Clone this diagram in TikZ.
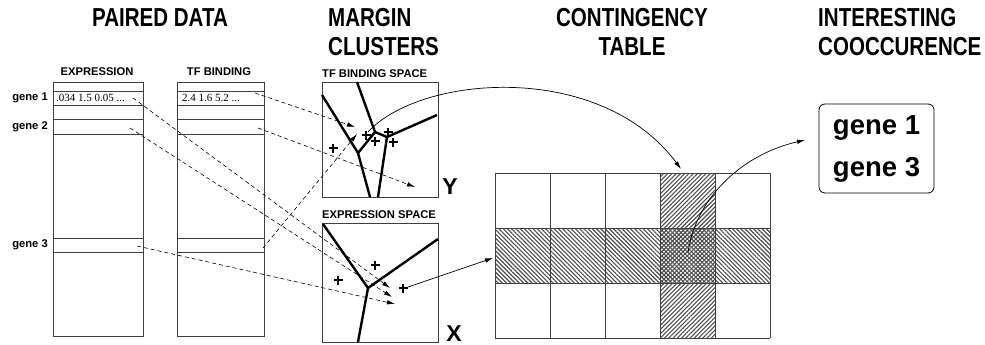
\documentclass[tikz,border=0pt]{standalone}
\usepackage{fontspec}
\setmainfont{Liberation Sans}
\newfontfamily\titlefont{Liberation Sans}[FakeStretch=0.79]
\newfontfamily\datafont{Liberation Serif}
\usetikzlibrary{arrows.meta, patterns.meta}

\begin{document}
\begin{tikzpicture}[x=1pt, y=-1pt, >={Latex[length=8pt,width=4.5pt]},
  title/.style={font=\titlefont\bfseries\fontsize{26}{29}\selectfont, align=center, inner sep=0pt},
  lbl/.style={font=\bfseries\fontsize{11.2}{13}\selectfont, inner sep=0pt},
  axislbl/.style={font=\bfseries\fontsize{23}{25}\selectfont, inner sep=0pt},
  data/.style={font=\datafont\fontsize{11}{12}\selectfont, inner sep=0pt, anchor=west},
  box/.style={line width=0.8pt, black!75},
  space/.style={draw, box, minimum width=116pt, minimum height=115pt, anchor=north west, inner sep=0pt},
  cell/.style={line width=2.4pt},
  link/.style={->, dash pattern=on 4pt off 3pt, line width=0.6pt},
  flow/.style={->, line width=0.7pt},
  hatch/.style={pattern={Lines[angle=#1,distance=3pt,line width=1.1pt]}, pattern color=black!70}]
  \useasboundingbox (0,0) rectangle (985,345);

  \node[title] (tPaired) at (160,18) {PAIRED DATA};
  \node[title, align=left, anchor=west] (tMargin) at (328,32) {MARGIN\\CLUSTERS};
  \node[title] (tTable) at (632,32) {CONTINGENCY\\TABLE};
  \node[title, align=left, anchor=west] (tCooc) at (818,32) {INTERESTING\\COOCCURENCE};

  % paired data
  \draw[box] (53,82) rectangle (143,336);
  \draw[box] (177,82) rectangle (264,336);
  \foreach \y in {91,105,119,134,238,252} {
    \draw[box] (53,\y) -- (143,\y);
    \draw[box] (177,\y) -- (264,\y);
  }
  \node[lbl] (hExpr) at (97,72) {EXPRESSION};
  \node[lbl] (hTF) at (219,72) {TF BINDING};
  \node[lbl, anchor=east] (g1) at (48,98) {gene 1};
  \node[lbl, anchor=east] (g2) at (48,126.5) {gene 2};
  \node[lbl, anchor=east] (g3) at (48,245) {gene 3};
  \node[data] (d1) at (56,98) {.034 1.5 0.05 ...};
  \node[data] (d2) at (182,98) {2.4 1.6 5.2 ...};

  % margin clusters
  \node[space] (tfSpace) at (322,82) {};
  \node[lbl, anchor=south west] (tfSpaceLbl) at (322,78) {TF BINDING SPACE};
  \node[axislbl] (yLbl) at (450,187) {Y};
  \draw[cell] (322,95) -- (358,153) -- (370,197);
  \draw[cell] (358,153) -- (375,132) -- (357,82);
  \draw[cell] (375,132) -- (387,137) -- (437,115);
  \draw[cell] (387,137) -- (378,197);

  \node[space, minimum height=119pt] (exSpace) at (322,223) {};
  \node[lbl, anchor=south west] (exSpaceLbl) at (322,219) {EXPRESSION SPACE};
  \node[axislbl] (xLbl) at (454,334) {X};
  \draw[cell] (323,224) -- (368,288) -- (438,239);
  \draw[cell] (368,288) -- (358,342);

  \foreach \x/\y in {333/148, 366/135, 375/141, 388/132, 393/142, 375/265, 338/280, 403/288}
    \draw[line width=1.2pt] (\x-4.5,\y) -- (\x+4.5,\y) (\x,\y-4.5) -- (\x,\y+4.5);

  % contingency table
  \fill[hatch=45] (660,173) rectangle (715,338);
  \fill[hatch=-45] (495,228) rectangle (770,283);
  \foreach \x in {495,550,...,770}
    \draw[box] (\x,173) -- (\x,338);
  \foreach \y in {173,228,283,338}
    \draw[box] (495,\y) -- (770,\y);

  \node[draw, box, black, rounded corners=6pt, minimum width=115pt, minimum height=89pt,
    font=\bfseries\fontsize{27.5}{42}\selectfont, align=center] (hits) at (876.5,148.5) {gene 1\\gene 3};

  % connectors
  \coordinate (e1) at (133,98);   \coordinate (ex1) at (390,288);
  \coordinate (e2) at (130,128);  \coordinate (ex2) at (392,297);
  \coordinate (e3) at (137,246);  \coordinate (ex3) at (395,304);
  \coordinate (f1) at (255,93);   \coordinate (tf1) at (355,127);
  \coordinate (f2) at (258,128);  \coordinate (tf2) at (415,187);
  \coordinate (f3) at (263,248);  \coordinate (tf3) at (357,134);
  \draw[link] (e1) -- (ex1);
  \draw[link] (e2) -- (ex2);
  \draw[link] (e3) -- (ex3);
  \draw[link] (f1) -- (tf1);
  \draw[link] (f2) -- (tf2);
  \draw[link] (f3) -- (tf3);

  \coordinate (tfPick) at (368,132);  \coordinate (colTop) at (681,169);
  \coordinate (exPick) at (408,287);  \coordinate (rowLeft) at (493,258);
  \coordinate (cross) at (688,253);   \coordinate (hitsIn) at (805,140);
  \draw[flow] (tfPick) .. controls (420,75) and (600,60) .. (colTop);
  \draw[flow] (exPick) -- (rowLeft);
  \draw[flow] (cross) .. controls (695,200) and (740,155) .. (hitsIn);
\end{tikzpicture}
\end{document}
